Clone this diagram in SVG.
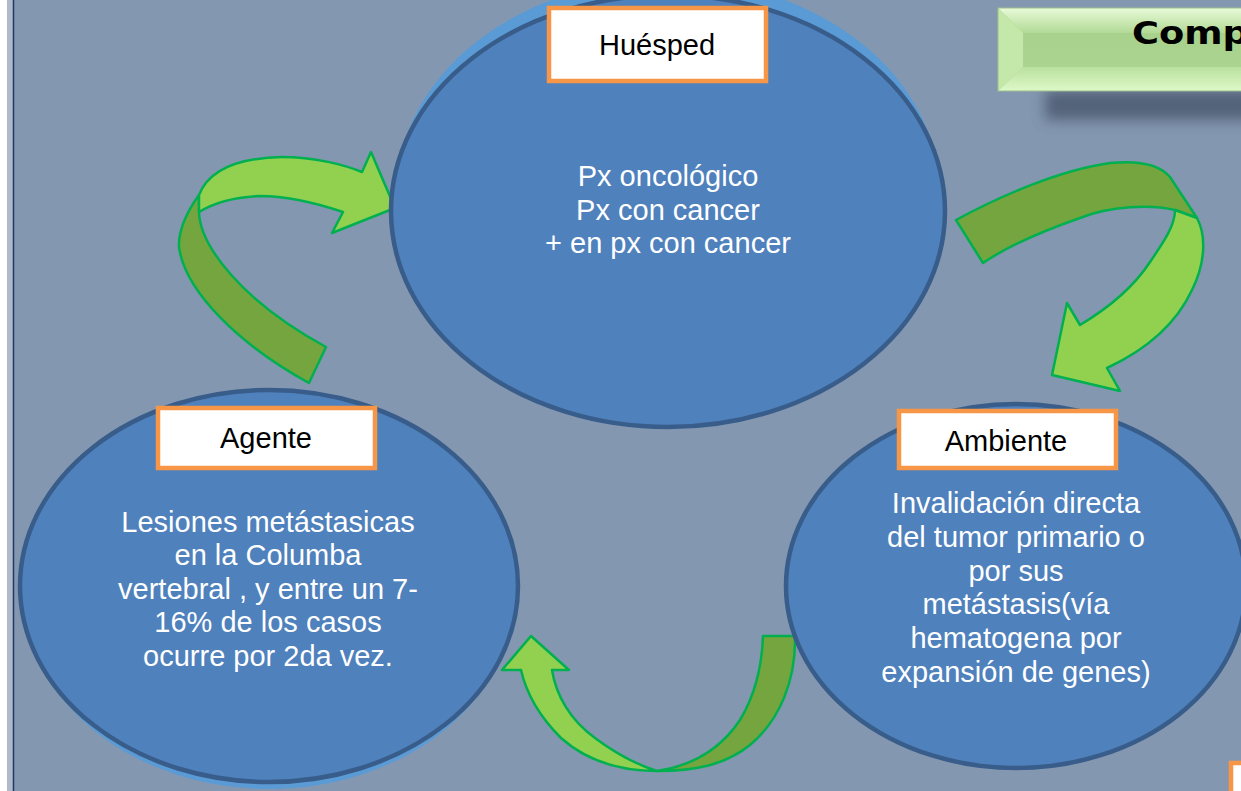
<svg xmlns="http://www.w3.org/2000/svg" width="1241" height="791" viewBox="0 0 1241 791">
<defs>
<style>
.lbl{fill:#fff;stroke:#F79646;stroke-width:4.5}
.lt{font-family:"Liberation Sans",Arial,sans-serif;font-size:29px;fill:#000;text-anchor:middle}
.bt{font-family:"Liberation Sans",Arial,sans-serif;font-size:29px;fill:#fff;text-anchor:middle}
.circ{fill:#4F81BD;stroke:#385D8A;stroke-width:4.5}
.halo{fill:#5B9BD5}
.ag{fill:#92D050;stroke:#00B050;stroke-width:2.5;stroke-linejoin:round}
.ad{fill:#75A53F;stroke:#00B050;stroke-width:2.5;stroke-linejoin:round}
</style>
<filter id="blur" x="-20%" y="-50%" width="140%" height="200%"><feGaussianBlur stdDeviation="7"/></filter>
<linearGradient id="face" x1="0" y1="0" x2="0" y2="1">
<stop offset="0" stop-color="#A6D08A"/><stop offset="1" stop-color="#ADD592"/>
</linearGradient>
<linearGradient id="topb" x1="0" y1="0" x2="0" y2="1">
<stop offset="0" stop-color="#E8FAD8"/><stop offset="1" stop-color="#B2DA96"/>
</linearGradient>
<linearGradient id="botb" x1="0" y1="0" x2="0" y2="1">
<stop offset="0" stop-color="#B9E19E"/><stop offset="1" stop-color="#DDF8C8"/>
</linearGradient>
</defs>
<rect x="0" y="0" width="1241" height="791" fill="#8497B0"/>
<rect x="0" y="0" width="7" height="791" fill="#FFFFFF"/>
<rect x="7" y="0" width="6" height="791" fill="#AEB9CB"/>
<line x1="13.5" y1="0" x2="13.5" y2="791" stroke="#1F3A60" stroke-width="1.5"/>

<g id="title">
<rect x="1045" y="90" width="220" height="30" fill="#47556C" opacity="0.8" filter="url(#blur)"/>
<rect x="998" y="8" width="260" height="83" fill="url(#face)"/>
<polygon points="998,8 1258,8 1258,33 1023,33" fill="url(#topb)"/>
<polygon points="998,91 1258,91 1258,67 1023,67" fill="url(#botb)"/>
<polygon points="998,8 1023,33 1023,67 998,91" fill="#C3E8AA"/>
<rect x="998" y="8" width="260" height="83" fill="none" stroke="#9DBF88" stroke-width="1"/>
<text transform="translate(1132,44) scale(1.15,1)" x="0" y="0" font-family="'DejaVu Sans',sans-serif" font-weight="bold" font-size="32" fill="#000">Comp</text>
</g>

<g id="connectors">
<path class="ad" d="M326,347 L309,383 C240,345 185,292 179,247 C178,230 188,210 199,195 L199,212 C200,245 240,300 326,347 Z"/>
<path class="ag" d="M199,195 C208,172 235,158 282,157 C315,157 345,165 362,172 L371,152 L395,208 L332,233 L343,212 C310,201 282,196 260,196 C230,197 212,204 199,212 Z"/>
<path class="ad" d="M956,220 C1000,196 1060,170 1110,163 C1140,160 1160,165 1170,177 L1197,218 L1175,210 C1150,204 1110,206 1080,218 C1040,232 1005,248 983,263 Z"/>
<path class="ag" d="M1175,210 L1197,218 C1206,235 1206,262 1192,290 C1178,320 1150,348 1107,368 L1120,391 L1052,375 L1067,303 L1080,325 C1110,307 1135,285 1150,262 C1165,240 1175,225 1175,210 Z"/>
<path class="ad" d="M763,636 L795,636 C796,680 780,720 750,745 C725,765 695,771 657,771 C690,766 720,750 740,720 C755,695 762,665 763,636 Z"/>
<path class="ag" d="M657,771 C620,771 588,762 561,738 C538,715 526,692 521,670 L502,670 L531,636 L569,670 L552,670 C556,695 570,720 595,738 C615,753 635,764 657,771 Z"/>
</g>

<g id="huesped">
<ellipse class="halo" cx="668" cy="195" rx="272" ry="216"/>
<ellipse class="circ" cx="668" cy="211" rx="277" ry="216"/>
<rect class="lbl" x="549" y="8" width="217" height="73"/>
<text class="lt" x="657" y="55">Huésped</text>
<text class="bt" x="668" y="186">Px oncológico</text>
<text class="bt" x="668" y="220">Px con cancer</text>
<text class="bt" x="668" y="253">+ en px con cancer</text>
</g>

<g id="agente">
<ellipse class="halo" cx="269" cy="594" rx="245" ry="195"/>
<ellipse class="circ" cx="269" cy="586" rx="249" ry="196"/>
<rect class="lbl" x="158" y="408" width="217" height="60"/>
<text class="lt" x="266" y="448">Agente</text>
<text class="bt" x="268" y="532">Lesiones metástasicas</text>
<text class="bt" x="268" y="565">en la Columba</text>
<text class="bt" x="268" y="599">vertebral , y entre un 7-</text>
<text class="bt" x="268" y="632">16% de los casos</text>
<text class="bt" x="268" y="666">ocurre por 2da vez.</text>
</g>

<g id="ambiente">
<ellipse class="circ" cx="1016" cy="586" rx="230" ry="182"/>
<rect class="lbl" x="899" y="411" width="217" height="57"/>
<text class="lt" x="1006" y="451">Ambiente</text>
<text class="bt" x="1016" y="513">Invalidación directa</text>
<text class="bt" x="1016" y="547">del tumor primario o</text>
<text class="bt" x="1016" y="581">por sus</text>
<text class="bt" x="1016" y="614">metástasis(vía</text>
<text class="bt" x="1016" y="648">hematogena por</text>
<text class="bt" x="1016" y="682">expansión de genes)</text>
</g>

<g id="corner-box">
<rect class="lbl" x="1231" y="763" width="20" height="40"/>
</g>
</svg>
